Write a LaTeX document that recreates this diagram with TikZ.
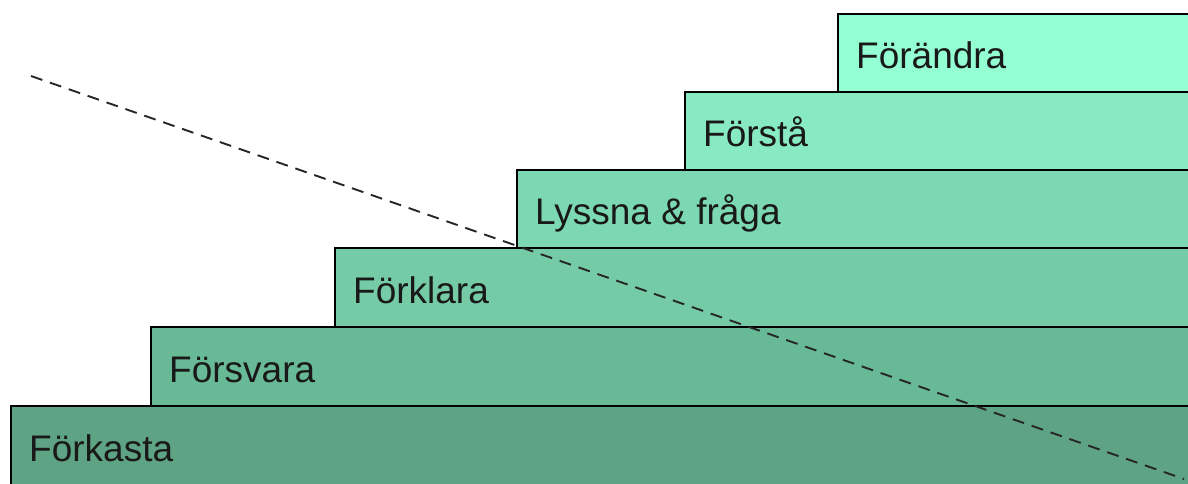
\documentclass[tikz,border=0pt]{standalone}
\usepackage{fontspec}
\setmainfont{Liberation Sans}
\definecolor{cA}{RGB}{148,255,211}
\definecolor{cB}{RGB}{136,234,194}
\definecolor{cC}{RGB}{124,216,178}
\definecolor{cD}{RGB}{116,203,166}
\definecolor{cE}{RGB}{104,185,150}
\definecolor{cF}{RGB}{94,163,132}
\tikzset{
  stepbox/.style={draw=black, line width=1.8pt, rectangle, anchor=north west,
    minimum height=78pt, inner sep=0pt, outer sep=0pt},
  steplabel/.style={anchor=base west, inner sep=0pt, text=black!90,
    font=\fontsize{37}{41}\selectfont},
  divider/.style={draw=black!85, line width=1.9pt, dash pattern=on 12pt off 8pt}
}
\begin{document}
\begin{tikzpicture}[x=1pt, y=-1pt]
  \useasboundingbox (0,0) rectangle (1188,483);
  \clip (0,0) rectangle (1188,483);
  % the stairway, from the bottom step up
  \node[stepbox, fill=cF, minimum width=1200pt, minimum height=90pt] (forkasta) at (11,406) {};
  \node[stepbox, fill=cE, minimum width=1060pt, minimum height=79pt] (forsvara) at (151,327) {};
  \node[stepbox, fill=cD, minimum width=880pt, minimum height=79pt] (forklara) at (335,248) {};
  \node[stepbox, fill=cC, minimum width=700pt] (lyssna) at (517,170) {};
  \node[stepbox, fill=cB, minimum width=530pt] (forsta) at (685,92) {};
  \node[stepbox, fill=cA, minimum width=380pt] (forandra) at (838,14) {};
  % step labels
  \node[steplabel] (t1) at ([xshift=18pt, yshift=-55pt]forkasta.north west) {Förkasta};
  \node[steplabel] (t2) at ([xshift=18pt, yshift=-55pt]forsvara.north west) {Försvara};
  \node[steplabel] (t3) at ([xshift=18pt, yshift=-55pt]forklara.north west) {Förklara};
  \node[steplabel] (t4) at ([xshift=18pt, yshift=-54pt]lyssna.north west) {Lyssna \& fråga};
  \node[steplabel] (t5) at ([xshift=18pt, yshift=-54pt]forsta.north west) {Förstå};
  \node[steplabel] (t6) at ([xshift=18pt, yshift=-54pt]forandra.north west) {Förändra};
  % dashed dividing line
  \coordinate (dstart) at (31,76);
  \coordinate (dend) at (1184,479);
  \draw[divider] (dstart) -- (dend);
\end{tikzpicture}
\end{document}
